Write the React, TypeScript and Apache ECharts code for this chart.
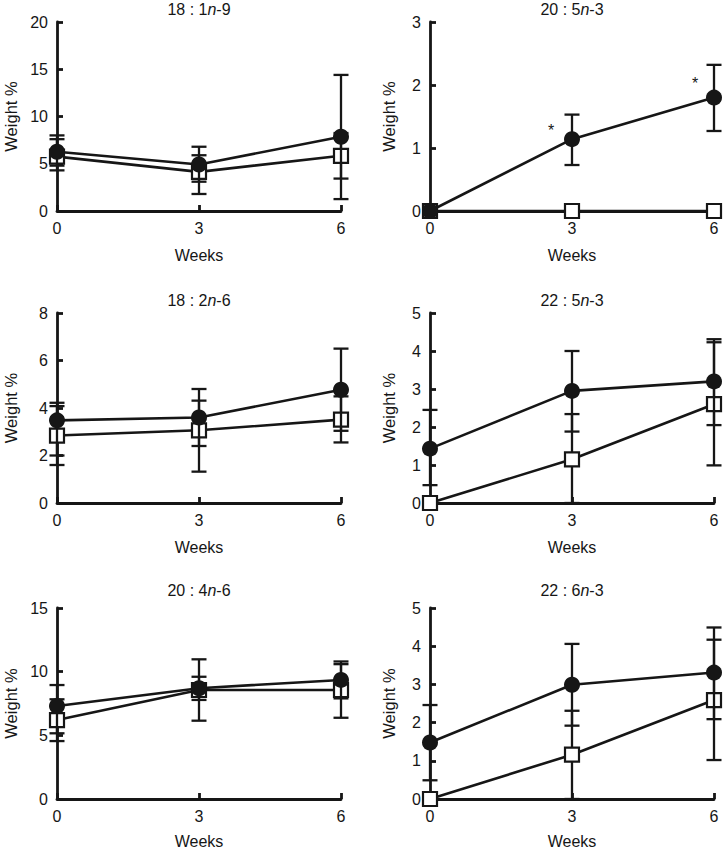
import React, { useEffect, useRef } from "react";
import * as echarts from "echarts";

// ---- data ----
const weeks = [0, 3, 6];

const titlePrefix = ["18 : 1", "20 : 5", "18 : 2", "22 : 5", "20 : 4", "22 : 6"];
const titleSuffix = ["-9", "-3", "-6", "-3", "-6", "-3"];
const yMax = [20, 3, 8, 5, 15, 5];
const yStep = [5, 1, 2, 1, 5, 1];

// panel 1: 18:1n-9
const p1Filled = [6.27, 4.92, 7.86];
const p1FilledLow = [4.8, 3.1, 1.26];
const p1FilledHigh = [8.0, 6.8, 14.4];
const p1Open = [5.75, 4.14, 5.84];
const p1OpenLow = [4.3, 1.8, 3.43];
const p1OpenHigh = [7.6, 5.9, 8.25];

// panel 2: 20:5n-3
const p2Filled = [0, 1.14, 1.8];
const p2FilledLow = [null, 0.73, 1.27];
const p2FilledHigh = [null, 1.53, 2.32];
const p2Open = [0, 0, 0];
const p2OpenLow = [null, null, null];
const p2OpenHigh = [null, null, null];
const p2Significant = [false, true, true];

// panel 3: 18:2n-6
const p3Filled = [3.48, 3.6, 4.77];
const p3FilledLow = [2.0, 2.4, 3.04];
const p3FilledHigh = [4.22, 4.8, 6.5];
const p3Open = [2.84, 3.06, 3.51];
const p3OpenLow = [1.6, 1.32, 2.55];
const p3OpenHigh = [4.08, 4.31, 4.49];

// panel 4: 22:5n-3
const p4Filled = [1.43, 2.95, 3.2];
const p4FilledLow = [0.47, 1.88, 2.05];
const p4FilledHigh = [2.45, 4.0, 4.31];
const p4Open = [0, 1.15, 2.6];
const p4OpenLow = [null, 0, 0.99];
const p4OpenHigh = [null, 2.34, 4.23];

// panel 5: 20:4n-6
const p5Filled = [7.3, 8.7, 9.35];
const p5FilledLow = [5.16, 6.15, 7.9];
const p5FilledHigh = [8.95, 10.97, 10.8];
const p5Open = [6.2, 8.56, 8.56];
const p5OpenLow = [4.55, 7.78, 6.38];
const p5OpenHigh = [7.83, 9.6, 10.59];

// panel 6: 22:6n-3
const p6Filled = [1.48, 2.99, 3.31];
const p6FilledLow = [0.49, 1.92, 2.09];
const p6FilledHigh = [2.46, 4.06, 4.49];
const p6Open = [0, 1.16, 2.59];
const p6OpenLow = [null, 0, 1.02];
const p6OpenHigh = [null, 2.31, 4.17];

const panels = [
  { f: p1Filled, fl: p1FilledLow, fh: p1FilledHigh, o: p1Open, ol: p1OpenLow, oh: p1OpenHigh, sig: null as boolean[] | null },
  { f: p2Filled, fl: p2FilledLow, fh: p2FilledHigh, o: p2Open, ol: p2OpenLow, oh: p2OpenHigh, sig: p2Significant },
  { f: p3Filled, fl: p3FilledLow, fh: p3FilledHigh, o: p3Open, ol: p3OpenLow, oh: p3OpenHigh, sig: null },
  { f: p4Filled, fl: p4FilledLow, fh: p4FilledHigh, o: p4Open, ol: p4OpenLow, oh: p4OpenHigh, sig: null },
  { f: p5Filled, fl: p5FilledLow, fh: p5FilledHigh, o: p5Open, ol: p5OpenLow, oh: p5OpenHigh, sig: null },
  { f: p6Filled, fl: p6FilledLow, fh: p6FilledHigh, o: p6Open, ol: p6OpenLow, oh: p6OpenHigh, sig: null },
];

// ---- layout ----
const INK = "#161616";
const FONT = "'Liberation Sans', Arial, Helvetica, sans-serif";
const gridRects = [
  [57, 22, 284, 189],
  [430, 22, 284, 189],
  [57, 313, 284, 190],
  [430, 313, 284, 190],
  [57, 608, 284, 191],
  [430, 608, 284, 191],
];
const titleTops = [1, 1, 292, 292, 582, 582];
const xNameGaps = [36, 36, 36, 36, 34, 34];
const sigOffsets: Record<number, number[]> = { 1: [-21, -9], 2: [-19, -14] };

function errorSeries(i: number, lows: (number | null)[], highs: (number | null)[], z: number) {
  const data: number[][] = [];
  weeks.forEach((w, j) => {
    const lo = lows[j];
    const hi = highs[j];
    if (lo !== null && hi !== null) data.push([w, lo, hi]);
  });
  return {
    type: "custom",
    xAxisIndex: i,
    yAxisIndex: i,
    z,
    silent: true,
    encode: { x: 0, y: [1, 2] },
    data,
    renderItem: (params: any, api: any) => {
      const x = api.value(0);
      const pLo = api.coord([x, api.value(1)]);
      const pHi = api.coord([x, api.value(2)]);
      const w = 7.5;
      const st = { stroke: INK, lineWidth: 2.3 };
      return {
        type: "group",
        children: [
          { type: "line", shape: { x1: pLo[0], y1: pLo[1], x2: pHi[0], y2: pHi[1] }, style: st },
          { type: "line", shape: { x1: pLo[0] - w, y1: pLo[1], x2: pLo[0] + w, y2: pLo[1] }, style: st },
          { type: "line", shape: { x1: pHi[0] - w, y1: pHi[1], x2: pHi[0] + w, y2: pHi[1] }, style: st },
        ],
      };
    },
  };
}

function buildOption() {
  const textBase = { color: INK, fontFamily: FONT, fontSize: 16, fontWeight: "normal" as const };
  const series: any[] = [];
  panels.forEach((p, i) => {
    series.push(errorSeries(i, p.ol, p.oh, 1));
    series.push({
      type: "line",
      xAxisIndex: i,
      yAxisIndex: i,
      z: 2,
      clip: false,
      symbol: "rect",
      symbolSize: 14,
      lineStyle: { color: INK, width: 2.6 },
      itemStyle: { color: "#ffffff", borderColor: INK, borderWidth: 2.2 },
      data: weeks.map((w, j) => [w, p.o[j]]),
    });
    series.push(errorSeries(i, p.fl, p.fh, 3));
    series.push({
      type: "line",
      xAxisIndex: i,
      yAxisIndex: i,
      z: 4,
      clip: false,
      symbol: "circle",
      symbolSize: 16,
      lineStyle: { color: INK, width: 2.6 },
      itemStyle: { color: INK, borderColor: INK, borderWidth: 0 },
      data: weeks.map((w, j) => {
        const item: any = { value: [w, p.f[j]] };
        if (p.sig && p.sig[j]) {
          item.label = {
            show: true,
            formatter: "*",
            position: "inside",
            offset: sigOffsets[j],
            ...textBase,
            fontSize: 16,
          };
        }
        return item;
      }),
    });
  });

  return {
    animation: false,
    backgroundColor: "#ffffff",
    title: panels.map((_, i) => ({
      text: `{a|${titlePrefix[i]}}{i|n}{a|${titleSuffix[i]}}`,
      left: gridRects[i][0] + gridRects[i][2] / 2,
      top: titleTops[i],
      textAlign: "center",
      padding: 0,
      textStyle: {
        fontWeight: "normal",
        rich: {
          a: { ...textBase, fontSize: 16 },
          i: { ...textBase, fontSize: 16, fontStyle: "italic" },
        },
      },
    })),
    grid: gridRects.map((r) => ({
      left: r[0],
      top: r[1],
      width: r[2],
      height: r[3],
      containLabel: false,
      outerBoundsMode: "none",
    })),
    xAxis: panels.map((_, i) => ({
      gridIndex: i,
      type: "value",
      min: 0,
      max: 6,
      interval: 3,
      axisLine: { onZero: false, lineStyle: { color: INK, width: 2.8 } },
      axisTick: { inside: true, length: 6, lineStyle: { color: INK, width: 2.8 } },
      axisLabel: { ...textBase, margin: 9 },
      splitLine: { show: false },
      name: "Weeks",
      nameLocation: "middle",
      nameGap: xNameGaps[i],
      nameTextStyle: { ...textBase },
    })),
    yAxis: panels.map((_, i) => ({
      gridIndex: i,
      type: "value",
      min: 0,
      max: yMax[i],
      interval: yStep[i],
      axisLine: { onZero: false, lineStyle: { color: INK, width: 2.8 } },
      axisTick: { inside: true, length: 6, lineStyle: { color: INK, width: 2.8 } },
      axisLabel: { ...textBase, margin: 9 },
      splitLine: { show: false },
      name: "Weight %",
      nameLocation: "middle",
      nameRotate: 90,
      nameGap: i % 2 === 0 ? 38 : 33,
      nameTextStyle: { ...textBase, fontSize: 16.5 },
    })),
    series,
  };
}

export default function App() {
  const ref = useRef<HTMLDivElement>(null);
  useEffect(() => {
    if (!ref.current) return;
    const chart = echarts.init(ref.current, undefined, { renderer: "svg" });
    chart.setOption(buildOption() as any);
    return () => chart.dispose();
  }, []);
  return (
    <div
      ref={ref}
      style={{ position: "fixed", left: 0, top: 0, width: 723, height: 849, background: "#fff" }}
    />
  );
}
